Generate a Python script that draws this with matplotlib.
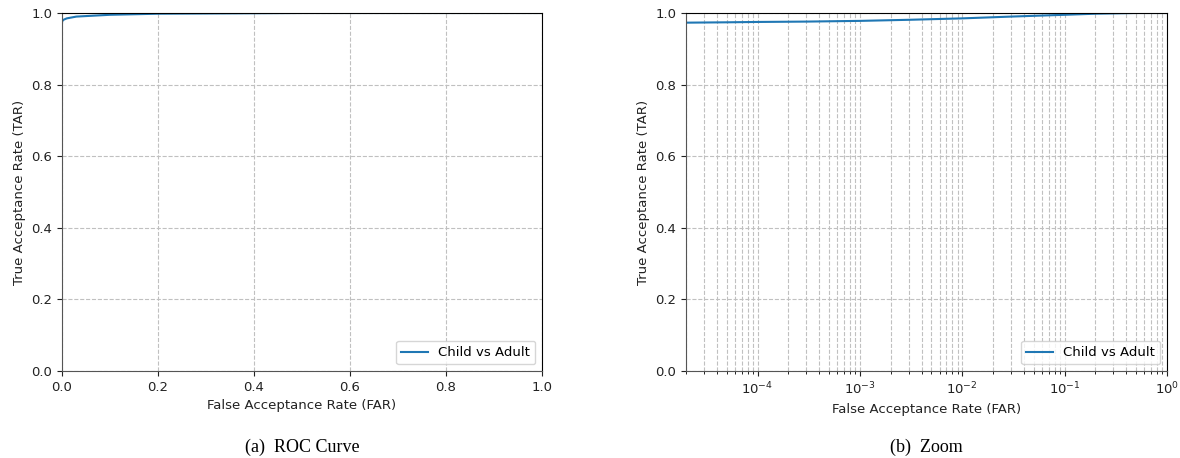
import matplotlib
matplotlib.use("Agg")
import matplotlib.pyplot as plt
import numpy as np

# Data
far = [0.0, 2e-5, 5e-5, 1e-4, 3e-4, 1e-3, 3e-3, 1e-2, 3e-2, 0.1, 0.2, 0.5, 1.0]
tar = [0.972, 0.973, 0.974, 0.975, 0.976, 0.978, 0.981, 0.985, 0.990, 0.995, 0.998, 1.0, 1.0]
series_label = "Child vs Adult"
xlabel = "False Acceptance Rate (FAR)"
ylabel = "True Acceptance Rate (TAR)"
captions = ["(a)  ROC Curve", "(b)  Zoom"]

fig = plt.figure(figsize=(11.8, 4.58), dpi=100)
W, H = 1180, 458
ax1 = fig.add_axes([62 / W, 1 - 371 / H, 480 / W, 358 / H])
ax2 = fig.add_axes([686 / W, 1 - 371 / H, 481 / W, 358 / H])

color = "#1f77b4"
for ax in (ax1, ax2):
    ax.plot(far, tar, color=color, lw=1.5, label=series_label)
    ax.set_ylim(0, 1.0)
    ax.set_yticks([0.0, 0.2, 0.4, 0.6, 0.8, 1.0])
    ax.set_xlabel(xlabel, fontsize=9.5, color="#222222")
    ax.set_ylabel(ylabel, fontsize=9.5, color="#222222")
    ax.tick_params(labelsize=9.5, colors="#222222")
    leg = ax.legend(loc="lower right", fontsize=9.5, fancybox=True, framealpha=0.8)
    for s in ("left", "bottom"):
        ax.spines[s].set_color("#555555")

ax1.set_xlim(0, 1.0)
ax1.set_xticks([0.0, 0.2, 0.4, 0.6, 0.8, 1.0])
ax1.grid(True, linestyle="--", color="#c0c0c0", lw=0.8)

ax2.set_xscale("log")
ax2.set_xlim(2e-5, 1.0)
ax2.grid(True, which="both", linestyle="--", color="#c0c0c0", lw=0.8)

fig.text((62 + 542) / 2 / W, 1 - 447 / H, captions[0], ha="center", va="center",
         fontsize=13, family="Liberation Serif")
fig.text((686 + 1167) / 2 / W, 1 - 447 / H, captions[1], ha="center", va="center",
         fontsize=13, family="Liberation Serif")

fig.savefig("out.png", dpi=100)
